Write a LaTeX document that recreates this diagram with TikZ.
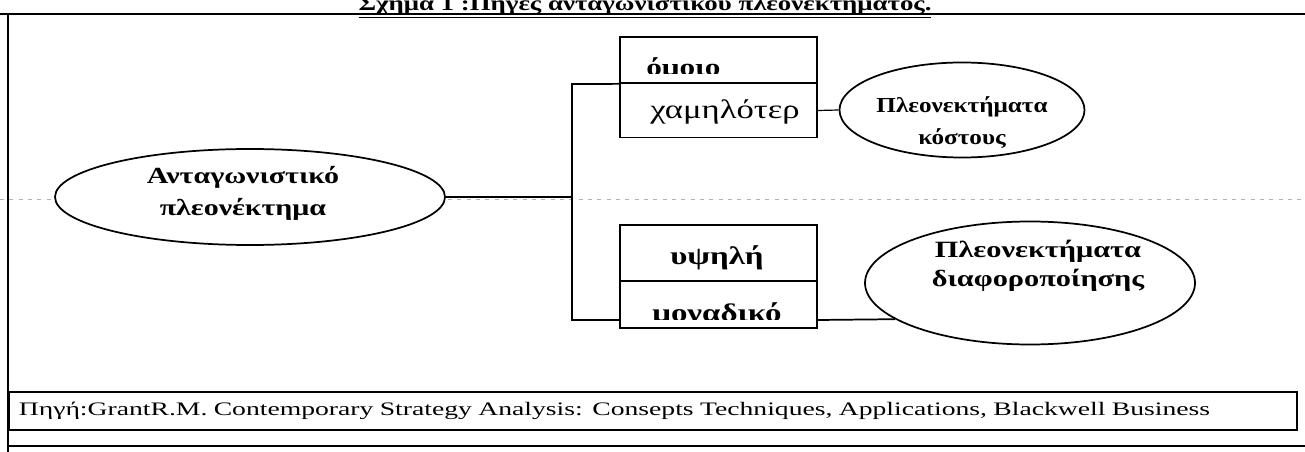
\documentclass[tikz,border=0pt]{standalone}
\usepackage{fontspec}
\setmainfont{Liberation Serif}[FakeStretch=1.3]
\newfontfamily\srcfont{Liberation Serif}[FakeStretch=1.45]
\newfontfamily\cfont{Liberation Serif}[FakeStretch=1.18]
\usetikzlibrary{shapes.geometric}
\begin{document}
\begin{tikzpicture}[x=0.75pt,y=-0.75pt,line width=1.3pt,
  oval/.style={ellipse,draw,inner sep=0pt},
  otext/.style={align=center,inner sep=0pt},
  cell/.style={draw,inner sep=0pt,minimum width=147.75pt},
  guide/.style={line width=0.6pt,gray!60,dash pattern=on 3pt off 4pt}]
\useasboundingbox (0,0) rectangle (1305,452);
% frame
\draw (0,14) -- (1305,14);
\draw (8,14) -- (8,452);
\draw (8,446) -- (1305,446);
% title (cut at top)
\node[font=\bfseries\fontsize{15.5}{18}\selectfont,anchor=base] (T) at (645,11) {\underline{Σχήμα 1 :Πηγές ανταγωνιστικού πλεονεκτήματος.}};
% dotted guide
\draw[guide] (0,199) -- (1305,199);
% ellipses
\node[oval,fill=white,minimum width=292.5pt,minimum height=72pt] (A) at (250,197) {};
\node[otext,font=\bfseries\fontsize{17.3}{24}\selectfont] (At) at (243,193) {Ανταγωνιστικό\\πλεονέκτημα};
\node[oval,minimum width=183.75pt,minimum height=71.25pt] (C) at (962,110) {};
\node[otext,font=\cfont\bfseries\fontsize{16}{24}\selectfont] (Ct) at (962,123) {Πλεονεκτήματα\\κόστους};
\node[oval,minimum width=247.5pt,minimum height=92.25pt] (D) at (1030,283) {};
\node[otext,font=\bfseries\fontsize{17.5}{22}\selectfont] (Dt) at (1038,266) {Πλεονεκτήματα\\διαφοροποίησης};
% boxes
\node[cell,minimum height=34.5pt] (b1t) at (718.5,60) {};
\node[cell,minimum height=40.5pt] (b1b) at (718.5,110.5) {};
\node[cell,minimum height=42pt] (b2t) at (718.5,253) {};
\node[cell,minimum height=35.25pt] (b2b) at (718.5,304.5) {};
\begin{scope}
\clip (b1t.north west) rectangle (817,74);
\node[font=\bfseries\fontsize{18}{22}\selectfont,anchor=base west] (t1) at (641,75.5) {όμοιο};
\end{scope}
\node[font=\fontsize{20}{22}\selectfont,anchor=base] (t2) at (725,119) {χαμηλότερ};
\node[font=\bfseries\fontsize{19}{22}\selectfont,anchor=base] (t3) at (717,264) {υψηλή};
\begin{scope}
\clip (b2b.north west) rectangle (817,319.5);
\node[font=\bfseries\fontsize{19}{22}\selectfont,anchor=base] (t4) at (717,321.5) {μοναδικό};
\end{scope}
% connectors
\coordinate (j) at (572,197);
\coordinate (jt) at (572,84);
\coordinate (jb) at (572,320);
\draw (A.east) -- (j);
\draw (b1t.south west) -- (jt) -- (jb) -- (b2b.west |- jb);
\draw[line width=0.9pt] (b1b.east) -- (C.west);
\draw (b2b.east |- jb) -- (D.195.7);
% source
\node[draw,anchor=north west,inner xsep=7.5pt,text width=951pt,minimum height=28.5pt,align=left,font=\srcfont\fontsize{14.3}{18}\selectfont] (S) at (8,391) {Πηγή:GrantR.M. Contemporary Strategy Analysis: Consepts Techniques, Applications, Blackwell Business};
\end{tikzpicture}
\end{document}
